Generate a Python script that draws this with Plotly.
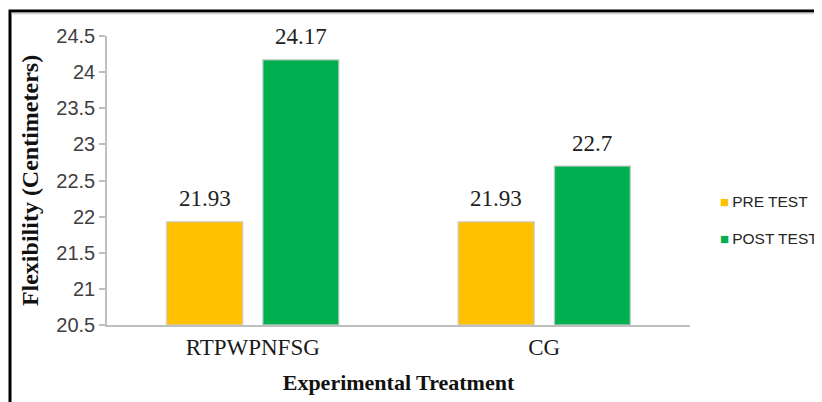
import plotly.graph_objects as go

categories = ["RTPWPNFSG", "CG"]
series_names = ["PRE TEST", "POST TEST"]
pre_test = [21.93, 21.93]
post_test = [24.17, 22.7]
value_labels_pre = ["21.93", "21.93"]
value_labels_post = ["24.17", "22.7"]
tick_vals = [20.5, 21, 21.5, 22, 22.5, 23, 23.5, 24, 24.5]
tick_text = ["20.5", "21", "21.5", "22", "22.5", "23", "23.5", "24", "24.5"]

colors = ["#FFC000", "#00B050"]
SERIF = "Liberation Serif, Times New Roman, serif"
SANS = "Liberation Sans, Arial, sans-serif"

# the page body adds an 8px margin, so the figure is sized/positioned to compensate
W, H = 814, 394
ML, MR, MT, MB = 99, 132, 28, 77
PW = W - ML - MR
PH = H - MT - MB
cat_px = PW / len(categories)

bar_w = 0.261
inner_gap = 0.069
offsets = [-bar_w - inner_gap / 2, inner_gap / 2]

fig = go.Figure()
all_vals = [pre_test, post_test]
all_labels = [value_labels_pre, value_labels_post]
for i, (name, vals) in enumerate(zip(series_names, all_vals)):
    fig.add_trace(go.Bar(
        x=categories, y=[v - 20.5 for v in vals], base=20.5,
        name=name, width=bar_w, offset=offsets[i],
        marker=dict(color=colors[i], line=dict(color="rgba(205,205,205,0.8)", width=1.5)),
        showlegend=False, hoverinfo="skip",
    ))

annotations = []
for i, (vals, labs) in enumerate(zip(all_vals, all_labels)):
    center = offsets[i] + bar_w / 2
    for c, v, lab in zip(categories, vals, labs):
        annotations.append(dict(
            x=c, y=v, text=lab, showarrow=False, xanchor="center", yanchor="middle",
            xshift=center * cat_px, yshift=23,
            font=dict(family=SERIF, size=23, color="#222222"),
        ))

# legend as text entries built from series names
leg_y = [0.429, 0.301]
for i, name in enumerate(series_names):
    annotations.append(dict(
        xref="paper", yref="paper", x=(718 - 8 - ML) / PW, y=leg_y[i],
        xanchor="left", yanchor="middle", showarrow=False,
        text=f"<span style='color:{colors[i]};font-size:15px'>■</span>\u2009{name}",
        font=dict(family=SANS, size=15.5, color="#262626"),
    ))

fig.update_layout(
    width=W, height=H,
    margin=dict(l=ML, r=MR, t=MT, b=MB, pad=0),
    paper_bgcolor="white", plot_bgcolor="white",
    barmode="overlay",
    annotations=annotations,
    shapes=[
        dict(type="rect", xref="paper", yref="paper",
             x0=(2 - ML) / PW, x1=1.4, y0=-0.5, y1=(H - MB - 3) / PH,
             line=dict(color="black", width=3), layer="above"),
        dict(type="line", xref="paper", yref="paper",
             x0=(3.5 - ML) / PW, x1=1.4, y0=(H - MB - 5.5) / PH, y1=(H - MB - 5.5) / PH,
             line=dict(color="#d0d0d0", width=1.5)),
    ],
    xaxis=dict(
        type="category", range=[-0.5, 1.5],
        showline=True, linecolor="#bfbfbf", linewidth=2,
        showgrid=False, ticks="",
        tickfont=dict(family=SERIF, size=23, color="#1a1a1a"),
        title=dict(text="<b>Experimental Treatment</b>", standoff=16,
                   font=dict(family=SERIF, size=22, color="#111111")),
    ),
    yaxis=dict(
        range=[20.5, 24.5], tickvals=tick_vals, ticktext=tick_text,
        showline=True, linecolor="#bfbfbf", linewidth=1.5,
        showgrid=False, ticks="outside", ticklen=6, tickcolor="#bfbfbf", tickwidth=1.5,
        tickfont=dict(family=SANS, size=20, color="#404040"),
        title=dict(text="<b>Flexibility (Centimeters)</b>", standoff=11,
                   font=dict(family=SERIF, size=24, color="#111111")),
    ),
)

fig.write_html("out.html")
